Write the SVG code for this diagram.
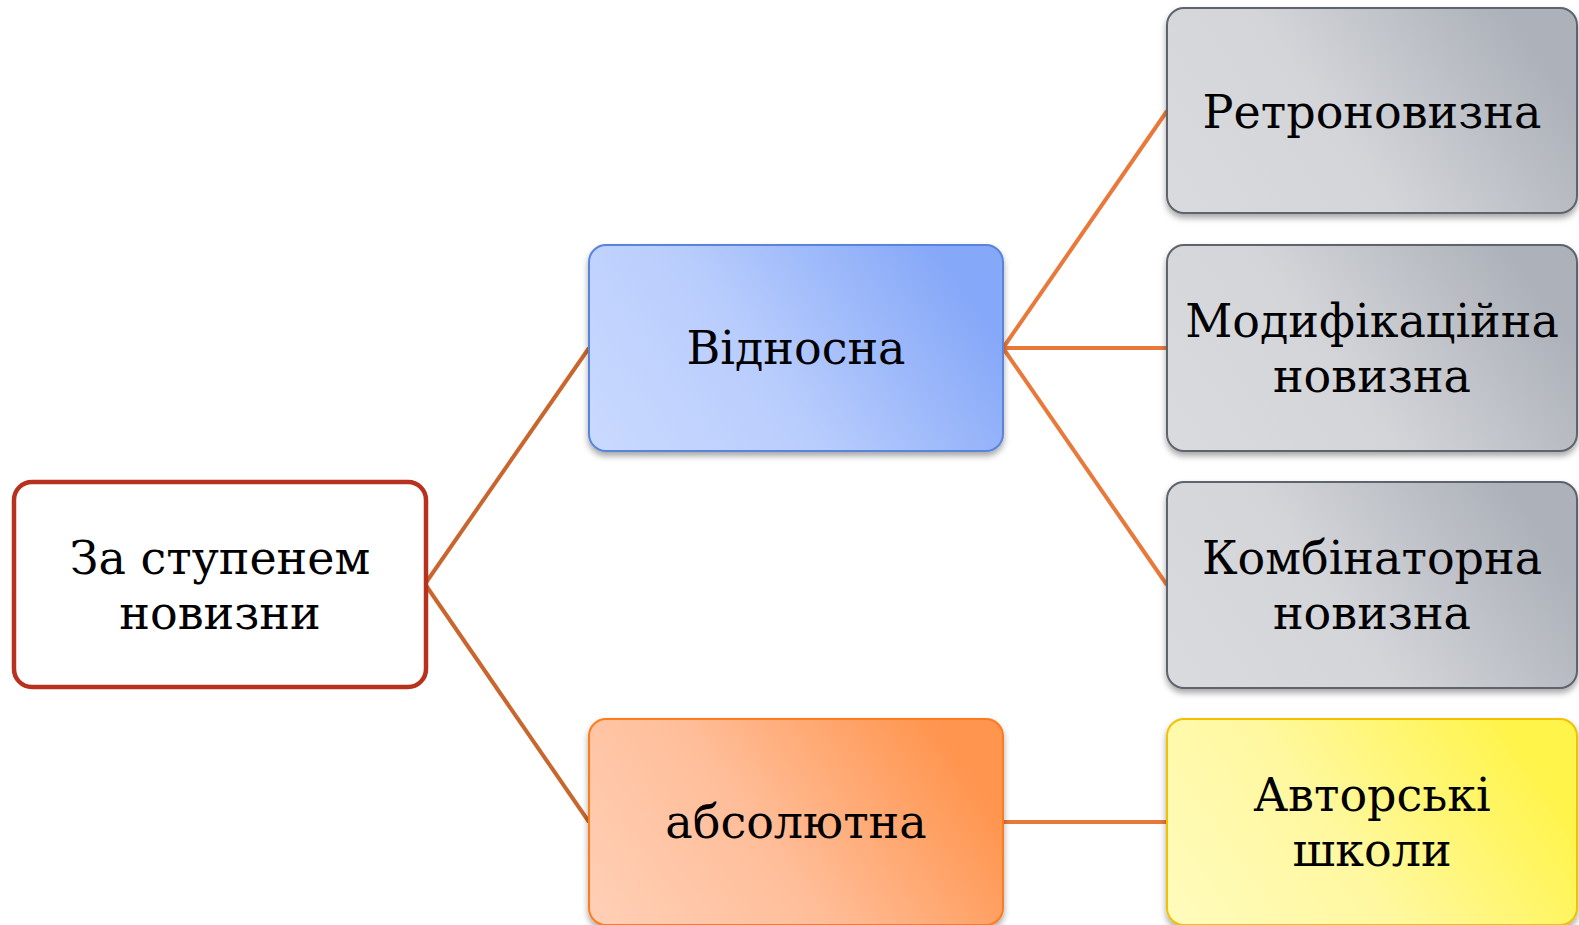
<svg xmlns="http://www.w3.org/2000/svg" width="1579" height="925" viewBox="0 0 1579 925">
<style>
.t{font-family:"DejaVu Serif","Liberation Serif",serif;font-size:46px;fill:#000;text-anchor:middle}
.c1{stroke:#C8662E;stroke-width:4;fill:none}
.c2{stroke:#E8793A;stroke-width:4;fill:none}
</style>
<defs>
<filter id="sh" x="-10%" y="-10%" width="120%" height="130%">
<feDropShadow dx="0" dy="4" stdDeviation="3" flood-color="#000" flood-opacity="0.35"/>
</filter>
<linearGradient id="gb" x1="0" y1="0.85" x2="1" y2="0.5">
<stop offset="0" stop-color="#C8D8FE"/>
<stop offset="0.45" stop-color="#B9CDFD"/>
<stop offset="1" stop-color="#86A8F8"/>
</linearGradient>
<linearGradient id="gg" x1="0" y1="0.85" x2="1" y2="0.5">
<stop offset="0" stop-color="#D8DADE"/>
<stop offset="0.45" stop-color="#D3D5D9"/>
<stop offset="1" stop-color="#ADB1B9"/>
</linearGradient>
<linearGradient id="go" x1="0" y1="0.85" x2="1" y2="0.5">
<stop offset="0" stop-color="#FFCEB4"/>
<stop offset="0.45" stop-color="#FFBE9A"/>
<stop offset="1" stop-color="#FF954F"/>
</linearGradient>
<linearGradient id="gy" x1="0" y1="0.85" x2="1" y2="0.5">
<stop offset="0" stop-color="#FFFBBA"/>
<stop offset="0.45" stop-color="#FFF8A0"/>
<stop offset="1" stop-color="#FFF44A"/>
</linearGradient>
</defs>
<g id="connectors">
<line class="c1" x1="425" y1="584" x2="589" y2="348"/>
<line class="c1" x1="425" y1="584" x2="589" y2="822"/>
<line class="c2" x1="1003" y1="348" x2="1167" y2="111"/>
<line class="c2" x1="1003" y1="348" x2="1167" y2="348"/>
<line class="c2" x1="1003" y1="348" x2="1167" y2="585"/>
<line class="c2" x1="1003" y1="822" x2="1167" y2="822"/>
</g>
<g id="root">
<rect x="14" y="482" width="412" height="205" rx="18" fill="#fff" stroke="#B8311F" stroke-width="4.5"/>
<text class="t" x="220" y="574">За ступенем</text>
<text class="t" x="220" y="629">новизни</text>
</g>
<g id="vidnosna">
<rect x="589" y="245" width="414" height="206" rx="17" fill="url(#gb)" stroke="#5985DA" stroke-width="2" filter="url(#sh)"/>
<text class="t" x="796" y="364">Відносна</text>
</g>
<g id="absolutna">
<rect x="589" y="719" width="414" height="206" rx="17" fill="url(#go)" stroke="#FF7B1C" stroke-width="2" filter="url(#sh)"/>
<text class="t" x="796" y="838">абсолютна</text>
</g>
<g id="retro">
<rect x="1167" y="8" width="410" height="205" rx="17" fill="url(#gg)" stroke="#5E646E" stroke-width="2" filter="url(#sh)"/>
<text class="t" x="1372" y="128">Ретроновизна</text>
</g>
<g id="modif">
<rect x="1167" y="245" width="410" height="206" rx="17" fill="url(#gg)" stroke="#5E646E" stroke-width="2" filter="url(#sh)"/>
<text class="t" x="1372" y="337">Модифікаційна</text>
<text class="t" x="1372" y="392">новизна</text>
</g>
<g id="komb">
<rect x="1167" y="482" width="410" height="206" rx="17" fill="url(#gg)" stroke="#5E646E" stroke-width="2" filter="url(#sh)"/>
<text class="t" x="1372" y="574">Комбінаторна</text>
<text class="t" x="1372" y="629">новизна</text>
</g>
<g id="avtorski">
<rect x="1167" y="719" width="410" height="206" rx="17" fill="url(#gy)" stroke="#F2C200" stroke-width="2" filter="url(#sh)"/>
<text class="t" x="1372" y="811">Авторські</text>
<text class="t" x="1372" y="866">школи</text>
</g>
</svg>
